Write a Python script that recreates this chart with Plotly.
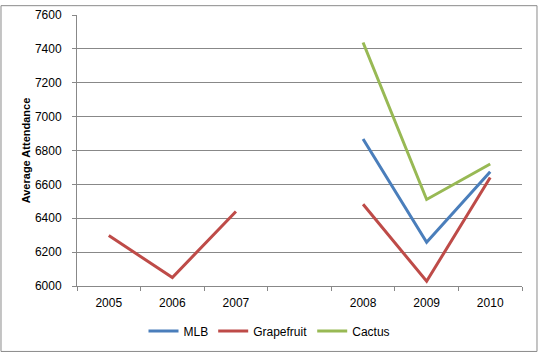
import plotly.graph_objects as go

categories = ["2005", "2006", "2007", " ", "2008", "2009", "2010"]
mlb = [None, None, None, None, 6868, 6258, 6675]
grapefruit = [6298, 6050, 6440, None, 6483, 6028, 6641]
cactus = [None, None, None, None, 7438, 6511, 6720]

y_ticks = [6000, 6200, 6400, 6600, 6800, 7000, 7200, 7400, 7600]

fig = go.Figure()
series = [("MLB", mlb, "#4A7EBB"), ("Grapefruit", grapefruit, "#BE4B48"), ("Cactus", cactus, "#98B954")]
for name, vals, col in series:
    fig.add_trace(go.Scatter(x=categories, y=vals, name=name, mode="lines",
                             line=dict(color=col, width=3), connectgaps=False))

grid = "#888888"
font = "Liberation Sans"
fig.update_layout(
    width=539, height=353,
    margin=dict(l=77, r=17, t=15, b=67, autoexpand=False),
    paper_bgcolor="white", plot_bgcolor="white",
    font=dict(family=font, size=11, color="#000000"),
    showlegend=True,
    legend=dict(orientation="h", x=0.5, xanchor="center", xref="container",
                y=0.062, yanchor="middle", yref="container",
                font=dict(size=12), itemwidth=30, tracegroupgap=0,
                bgcolor="rgba(0,0,0,0)"),
    xaxis=dict(type="category", categoryorder="array", categoryarray=categories,
               showgrid=False, showline=True, linecolor=grid, linewidth=1,
               ticks="outside", tickson="boundaries", ticklen=4, tickcolor=grid,
               tickfont=dict(size=12), ticklabelstandoff=6, range=[-0.5, 6.5], fixedrange=True),
    yaxis=dict(range=[6000, 7600], tickvals=y_ticks, showgrid=True, gridcolor=grid, gridwidth=1,
               showline=True, linecolor=grid, linewidth=1, ticks="outside", ticklen=4,
               tickcolor=grid, tickfont=dict(size=12), ticklabelstandoff=8, zeroline=False,
               title=dict(text="<b>Average Attendance</b>", font=dict(size=11), standoff=2)),
    shapes=[dict(type="rect", xref="paper", yref="paper",
                 x0=-0.1708, x1=1.0337, y0=-0.2415, y1=1.0344,
                 line=dict(color="#8a8a8a", width=1), fillcolor="rgba(0,0,0,0)", layer="below")],
)

fig.write_html("out.html")
